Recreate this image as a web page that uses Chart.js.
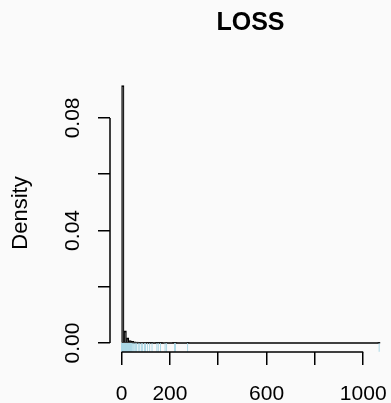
<!DOCTYPE html>
<html>
<head>
<meta charset="utf-8">
<script src="https://cdn.jsdelivr.net/npm/chart.js@4"></script>
<style>
  html, body { margin: 0; padding: 0; background: #fafafa; }
  canvas { display: block; }
</style>
</head>
<body>
<canvas id="loss" width="391" height="403"></canvas>
<script>
// histogram of LOSS, bins of width 10 starting at 0
const binWidth = 10;
const density = [
  0.0915, 0.0043, 0.0018, 0.0009, 0.0006, 0.0004, 0.0003, 0.0002, 0.0002, 0.0002,
  0.0001, 0.0001, 0.0001, 0, 0.0001, 0.0001, 0.0001, 0, 0.0002, 0,
  0, 0.0001, 0.0001, 0, 0, 0, 0, 0.0001, 0, 0,
  0, 0, 0, 0, 0, 0, 0, 0, 0, 0,
  0, 0, 0, 0, 0, 0, 0, 0, 0, 0,
  0, 0, 0, 0, 0, 0, 0, 0, 0, 0,
  0, 0, 0, 0, 0, 0, 0, 0, 0, 0,
  0, 0, 0, 0, 0, 0, 0, 0, 0, 0,
  0, 0, 0, 0, 0, 0, 0, 0, 0, 0,
  0, 0, 0, 0, 0, 0, 0, 0, 0, 0,
  0, 0, 0, 0, 0, 0, 0.0001
];
// rug: observed values
const rugValues = [
  0, 0.5, 1, 1.5, 2, 2.5, 3, 4, 5, 6, 7, 8, 9, 10, 11, 12, 13, 14, 15, 16, 17, 18, 19, 20,
  21, 22, 23, 24, 25, 26, 27, 28, 29, 30, 31, 32, 33, 34, 35, 36, 37, 38, 39, 40, 42, 44,
  48, 52, 57, 62, 69, 75, 82, 87, 95, 99, 107, 116, 126, 146, 152, 161, 180, 186,
  219, 223, 273, 1066
];
const xTicks = [0, 200, 400, 600, 800, 1000];
const xLabels = ['0', '200', '', '600', '', '1000'];
const yTicks = [0, 0.02, 0.04, 0.06, 0.08];
const yLabels = ['0.00', '', '0.04', '', '0.08'];
const mainTitle = 'LOSS';

const FONT = 'Liberation Sans, Arial, Helvetica, sans-serif';
Chart.defaults.font.family = FONT;
Chart.defaults.color = '#000';

const yMin = -0.0032, yMax = 0.0956;

var bars = density.map(function (d, i) { return { x: i * binWidth + binWidth / 2, y: d }; });
var baseLine = [{ x: 0, y: 0 }, { x: density.length * binWidth, y: 0 }];
var rug = rugValues.map(function (v) { return { x: v, y: yMin / 2 }; });

// R style axes: line only from first to last tick, rotated y labels, title over plot region
const rAxes = {
  id: 'rAxes',
  afterDraw: function (chart) {
    var ctx = chart.ctx, xs = chart.scales.x, ys = chart.scales.y, a = chart.chartArea;
    ctx.save();
    ctx.strokeStyle = '#000';
    ctx.lineWidth = 1.5;
    ctx.beginPath();
    ctx.moveTo(xs.getPixelForValue(xTicks[0]), a.bottom);
    ctx.lineTo(xs.getPixelForValue(xTicks[xTicks.length - 1]), a.bottom);
    ctx.moveTo(a.left, ys.getPixelForValue(yTicks[0]));
    ctx.lineTo(a.left, ys.getPixelForValue(yTicks[yTicks.length - 1]));
    ctx.stroke();
    ctx.font = '21px ' + FONT;
    ctx.fillStyle = '#000';
    ctx.textAlign = 'center';
    ctx.textBaseline = 'middle';
    for (var i = 0; i < yTicks.length; i++) {
      if (!yLabels[i]) continue;
      ctx.save();
      ctx.translate(a.left - 37, ys.getPixelForValue(yTicks[i]));
      ctx.rotate(-Math.PI / 2);
      ctx.fillText(yLabels[i], 0, 0);
      ctx.restore();
    }
    ctx.font = 'bold 25px ' + FONT;
    ctx.textBaseline = 'alphabetic';
    ctx.fillText(mainTitle, (a.left + a.right) / 2, 30);
    ctx.restore();
  }
};

new Chart(document.getElementById('loss'), {
  type: 'bar',
  data: {
    datasets: [
      {
        type: 'scatter',
        data: rug,
        pointStyle: 'line',
        rotation: 90,
        radius: 4.3,
        borderColor: '#add8e6',
        borderWidth: 1,
        backgroundColor: '#add8e6'
      },
      {
        type: 'line',
        data: baseLine,
        borderColor: '#000',
        borderWidth: 1.5,
        pointRadius: 0
      },
      {
        type: 'bar',
        data: bars,
        backgroundColor: '#1a1a1a',
        borderColor: '#000',
        borderWidth: 1.2,
        barPercentage: 1,
        categoryPercentage: 1
      }
    ]
  },
  options: {
    responsive: false,
    animation: false,
    events: [],
    layout: { autoPadding: false, padding: { top: 74, left: 0, right: 0, bottom: 0 } },
    plugins: {
      legend: { display: false },
      tooltip: { enabled: false },
      title: { display: false }
    },
    scales: {
      x: {
        type: 'linear',
        min: -48,
        max: 1115,
        offset: false,
        grid: { drawOnChartArea: false, drawTicks: true, tickLength: 13, color: '#000', lineWidth: 1.5, offset: false },
        border: { display: false },
        afterBuildTicks: function (scale) { scale.ticks = xTicks.map(function (v) { return { value: v }; }); },
        afterFit: function (scale) {
          scale.height = 51;
          scale.paddingLeft = 0;
          scale.paddingRight = 0;
        },
        ticks: {
          autoSkip: false,
          maxRotation: 0,
          padding: 17,
          font: { size: 21 },
          callback: function (v, i) { return xLabels[i]; }
        }
      },
      y: {
        type: 'linear',
        min: yMin,
        max: yMax,
        grid: { drawOnChartArea: false, drawTicks: true, tickLength: 12, color: '#000', lineWidth: 1.5 },
        border: { display: false },
        afterBuildTicks: function (scale) { scale.ticks = yTicks.map(function (v) { return { value: v }; }); },
        afterFit: function (scale) {
          scale.width = 110;
          scale.paddingTop = 0;
          scale.paddingBottom = 0;
        },
        ticks: { display: false },
        title: { display: true, text: 'Density', font: { size: 22 }, padding: { top: 8, bottom: 0 } }
      }
    }
  },
  plugins: [rAxes]
});
</script>
</body>
</html>
